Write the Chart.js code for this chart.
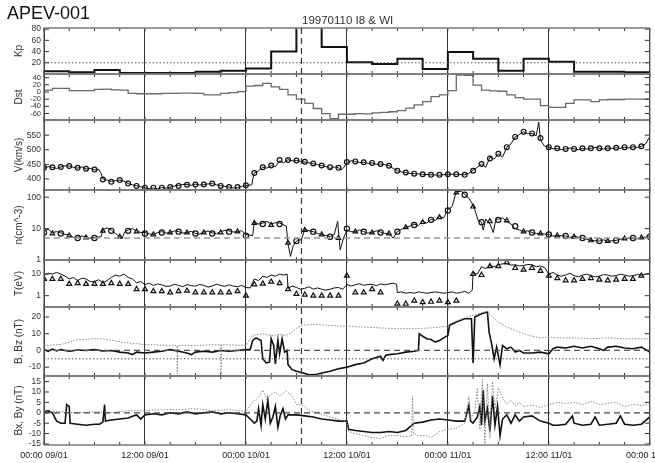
<!DOCTYPE html>
<html><head><meta charset="utf-8">
<script src="https://cdn.jsdelivr.net/npm/chart.js@4"></script>
<style>
html,body{margin:0;padding:0;background:#fff;}
#wrap{position:relative;width:655px;height:463px;overflow:hidden;}
#c{position:absolute;left:0;top:0;}
.t1{position:absolute;left:7px;top:3px;font:18px 'Liberation Sans',Arial,sans-serif;color:#111;}
.t2{position:absolute;left:302px;top:14px;font:11.5px 'Liberation Sans',Arial,sans-serif;color:#333;}
</style></head>
<body><div id="wrap"><canvas id="c" width="655" height="463"></canvas>
<div class="t1">APEV-001</div><div class="t2">19970110 I8 &amp; WI</div></div>
<script>
// ---------- categories / ticks ----------
const hours = [0,1,2,3,4,5,6,7,8,9,10,11,12,13,14,15,16,17,18,19,20,21,22,23,24,25,26,27,28,29,30,31,32,33,34,35,36,37,38,39,40,41,42,43,44,45,46,47,48,49,50,51,52,53,54,55,56,57,58,59,60,61,62,63,64,65,66,67,68,69,70,71,72];
const apHours = [0,3,6,9,12,15,18,21,24,27,30,33,36,39,42,45,48,51,54,57,60,63,66,69,72];
const xTickHours = [0,12,24,36,48,60,72];
const xTickLabels = ['00:00 09/01','12:00 09/01','00:00 10/01','12:00 10/01','00:00 11/01','12:00 11/01','00:00 12/01'];
const xMinorHours = [0,3,6,9,12,15,18,21,24,27,30,33,36,39,42,45,48,51,54,57,60,63,66,69,72];
const eventHour = 30.6;
const apTicks = [20,40,60,80];
const dstTicks = [40,20,0,-20,-40,-60];
const vTicks = [400,450,500,550];
const nTicks = [1,10,100];
const tTicks = [1,10];
const bTicks = [-10,0,10,20];
const bxyTicks = [-15,-10,-5,0,5,10,15];
const apRef = 20, nRef = 5, bRef = 0, bzRef = -5, bxyRef = 0;

// ---------- series ----------
const apVals = [5,3,7,2,2,2,4,6,10,40,94,48,21,18,27,9,39,27,6,27,22,4,4,3,3];
const dstVals = [5,10,10,4,4,4,7,8,6,5,
 -4,-5,-5,-5,-4,-4,-3,-3,-4,-8,
 -8,-4,-2,1,16,18,24,14,7,-8,
 -20,-32,-46,-60,-74,-62,-62,-60,-61,-58,
 -57,-55,-52,-45,-36,-27,-13,-8,4,47,
 46,19,5,3,2,-8,-16,-20,-20,-38,
 -43,-43,-32,-22,-22,-27,-22,-21,-21,-20,
 -20,-20,-20];
const vLine = [[0,436],[0.5,442],[1,440],[1.5,436],[2,441],[2.5,445],[3,444],[3.5,440],[4,437],[4.5,441],[5,434],[5.5,436],[6,431],[6.5,433],[6.8,418],[7,400],[7.5,396],[8,391],[8.5,394],[9,396],[9.5,392],[10,384],[10.5,380],[11,377],[11.5,373],[12,370],[12.5,367],[13,369],[13.5,366],[14,371],[14.5,368],[15,372],[15.5,376],[16,378],[16.5,381],[17,381],[17.5,378],[18,382],[18.5,379],[19,380],[19.5,383],[20,384],[20.5,380],[21,377],[21.5,374],[22,372],[22.5,369],[23,371],[23.5,374],[24,377],[24.7,380],[24.9,412],[25,420],[25.5,428],[26,440],[26.5,437],[27,446],[27.5,442],[28,462],[28.5,455],[29,466],[29.5,462],[30,463],[30.5,460],[31,458],[31.5,455],[32,452],[32.5,449],[33,446],[33.8,440],[34,436],[34.5,441],[35,438],[35.3,430],[35.6,438],[36,456],[36.5,462],[37,460],[37.5,456],[38,457],[38.5,453],[39,455],[39.5,450],[40,451],[41,446],[41.5,436],[42,428],[42.5,424],[43,422],[43.5,419],[44,418],[45,416],[46,414],[47,413],[48,416],[49,416],[50,414],[50.5,420],[51,430],[51.5,440],[52,451],[52.5,440],[53,474],[53.5,468],[54,486],[54.5,475],[55,509],[55.5,520],[56,544],[56.5,552],[57,562],[57.5,555],[58,556],[58.5,548],[58.8,595],[59,533],[59.5,512],[60,509],[60.5,503],[61,505],[61.5,500],[62,503],[62.5,506],[63,503],[63.5,500],[64,505],[64.5,502],[65,505],[65.5,508],[66,505],[66.5,502],[67,506],[67.5,504],[68,507],[68.5,505],[69,509],[69.5,506],[70,510],[70.5,508],[71,512],[71.5,520],[72,545]];
const vCirc = [438,440,441,444,438,435,432,398,390,396,
 384,376,370,370,370,372,376,380,381,381,
 384,376,372,372,378,420,440,446,465,465,
 463,459,453,446,440,438,458,460,457,455,
 451,445,428,422,418,416,414,414,416,416,
 414,428,451,470,486,509,544,562,556,540,
 509,505,503,503,505,505,505,505,507,509,
 509,512,null];
const nLine = [[0,8.5],[0.5,9.5],[1,7.5],[1.5,8],[2,7.3],[2.5,6.5],[3,6.5],[3.5,5.2],[4,5.3],[4.5,5.8],[5,5.5],[5.5,5.0],[6,5.2],[6.8,5.5],[7,9.5],[7.5,10.5],[8,9.0],[8.5,7],[9,5.5],[9.3,5.0],[9.6,8],[10,9.0],[10.5,10],[11,8.5],[11.5,7.5],[12,7.5],[12.5,6.8],[13,6.5],[13.5,7.5],[14,8.0],[14.5,7.2],[15,7.5],[15.5,8.5],[16,8.0],[16.5,7.2],[17,7.5],[17.5,8.2],[18,7.0],[18.5,6.8],[19,7.8],[19.5,8.4],[20,7.3],[20.5,6.9],[21,8.0],[21.5,8.8],[22,8.5],[22.5,7.8],[23,8.0],[23.5,8.6],[24,6.5],[24.8,6],[25,16],[25.5,14],[26,15],[26.5,17],[27,14],[27.5,15.5],[28,15],[28.8,12],[29,3.2],[29.3,1.3],[29.6,2.8],[30,4.0],[30.6,4.5],[31,9.5],[31.5,8.5],[32,8.0],[32.5,7],[33,6.5],[33.5,6],[34,5.5],[34.5,6.5],[34.9,17],[35.2,2.1],[35.6,5.0],[36,9],[36.5,8],[37,8],[37.5,9],[38,8],[38.5,7.2],[39,7.5],[39.5,8.5],[40,7.8],[40.5,7.0],[41,7],[41.5,5],[42,8],[42.5,9.5],[43,11],[43.5,12],[44,14],[44.5,12.5],[45,17],[45.5,15],[46,20],[46.5,18],[47,24],[47.5,22],[48,40],[48.5,50],[49,150],[49.6,155],[50.4,100],[50.8,70],[51.2,40],[51.6,18],[52,16],[52.2,9],[52.5,20],[53,14],[53.4,7.5],[53.7,20],[54,20],[54.5,22],[55,17],[55.5,14],[56,10],[56.5,9],[57,8],[57.5,8.5],[58,7.5],[58.5,7],[59,7],[60,6.5],[60.5,5.8],[61,6],[62,5.8],[62.5,5.2],[63,5.7],[64,5],[64.5,4.6],[65,4.2],[66,4],[66.5,4.4],[67,4],[68,4.2],[68.5,4.6],[69,4.8],[70,5],[70.5,4.7],[71,5.2],[72,5.5]];
const nMark = [7.5,7.0,7.0,6.0,5.0,5.2,5.0,8.5,8.5,5.5,
 8.5,8.0,7.0,6.5,7.5,7.5,8.0,7.5,7.0,7.5,
 7.0,7.5,8.0,8.0,6.0,15,14,13,14,3.5,
 4.0,9.0,8.0,6.5,5.5,5.0,10,8,8,7.5,
 7.5,7,8,11,13,16,19,23,38,140,
 120,50,16,17,19,18,12,8,7.5,7,
 6.5,6.0,5.8,5.5,5.0,4.2,4.0,4.0,4.2,4.8,
 5.0,5.2,5.5];
const tLine = [[0,9],[0.5,11],[1,10],[1.5,12],[2,10],[2.5,8],[3,6],[3.5,7],[4,5],[4.5,6.5],[5,6],[5.5,4.5],[6,4.5],[6.5,5.5],[7,4],[7.5,5],[8,7],[8.5,9],[9,8],[9.5,10],[10,7],[10.5,6],[11,4],[11.5,4.5],[12,3.3],[12.5,3.8],[13,3.0],[13.5,3.5],[14,3.2],[14.5,2.7],[15,2.8],[15.5,3.4],[16,3.0],[16.5,2.6],[17,3.3],[17.5,2.9],[18,2.8],[18.5,3.3],[19,3.0],[19.5,2.5],[20,2.8],[20.5,3.4],[21,3.0],[21.5,2.7],[22,3.2],[22.5,2.8],[23,2.6],[23.5,3.0],[24,2.4],[24.5,2.3],[25,6],[25.5,5],[26,8],[26.5,7],[27,9],[27.5,8],[28,10],[28.5,9],[28.9,10],[29,2.2],[29.5,2.8],[30,2.4],[30.5,2.0],[31,2.2],[31.5,2.6],[32,2.0],[32.5,2.3],[33,2.0],[33.5,1.8],[34,2.0],[34.5,2.3],[35,2.4],[35.5,2.0],[36,3.3],[36.5,2.8],[37,3.2],[37.5,3.6],[38,3.0],[38.5,3.3],[39,3.4],[39.5,2.9],[40,3.5],[40.5,3.2],[41,3.5],[41.5,3.8],[41.9,3.4],[42,1.4],[42.5,1.5],[43,1.3],[43.5,1.4],[44,1.3],[44.5,1.5],[45,1.4],[45.5,1.3],[46,1.4],[46.5,1.5],[47,1.4],[47.5,1.3],[48,1.4],[48.5,1.5],[49,1.3],[49.5,1.4],[50,1.6],[50.5,1.3],[50.9,1.8],[51,12],[51.5,10],[52,22],[52.5,18],[53,25],[53.5,22],[54,27],[54.5,30],[55,30],[55.5,26],[56,27],[56.5,24],[57,25],[57.5,28],[58,27],[58.5,22],[59,24],[59.5,20],[60,10],[60.5,12],[61,9],[61.5,8],[62,9],[62.5,11],[63,8.5],[63.5,7.5],[64,9],[64.5,10],[65,8.5],[65.5,7.5],[66,8],[66.5,9.5],[67,9],[67.5,8],[68,8.5],[68.5,10],[69,9],[69.5,8],[70,8.5],[70.5,9.5],[71,9],[71.5,10],[72,11]];
const tTri = [5.9,5.9,5.9,3.5,3.8,3.5,3.5,3.5,3.8,3.5,
 3.5,2.0,2.0,1.6,1.6,1.4,1.6,1.7,1.4,1.4,
 1.4,1.4,1.4,1.6,1.0,3.3,3.6,4.4,3.8,2.0,
 1.2,1.1,1.0,1.0,1.0,1.0,8.4,1.4,1.4,2.0,
 1.4,null,0.42,0.42,0.59,0.5,0.52,0.59,0.5,0.59,
 null,10,9,23,23,35,19,16,19,14,
 8.4,6.5,5.1,5.1,5.9,6.5,5.5,5.1,5.5,5.9,
 5.9,8.4,null];
const bMag = [[0,3],[2,3.5],[3,5],[4,6.5],[6,7],[7,7],[8,6],[10,4.5],[12,3.5],[15,3],[15.8,3],[15.85,-14],[15.9,3],[18,3],[21,3.5],[21.05,-14],[21.1,3.5],[24,3],[24.8,9],[26,10],[27,9],[28,9.5],[28.8,9],[29.5,11],[30.2,14],[30.8,15.2],[32,15.5],[34,15],[36,14.5],[38,14],[40,13.5],[42,13],[44,13],[46,13.5],[47,14],[48,14.5],[48.2,16],[49,17.5],[50,19.5],[51,21],[52,22.5],[52.7,23.5],[53.5,19],[54,17],[55,14],[56,12],[57,10],[58,8.5],[59,7.5],[60,8],[61,7.5],[63,7.5],[65,7],[67,7.5],[69,7],[71,7],[72,7]];
const bz = [[0,0.5],[0.5,-0.5],[1,0.8],[1.5,-0.3],[2,0.5],[2.5,0],[3,-0.5],[4,0.3],[5,0],[6,0.5],[7,-0.3],[8,0],[9,-1],[10,-1.5],[10.5,-2.5],[11,-1],[12,-1.5],[13,-1],[14,-0.5],[15,0.5],[16,-0.5],[17,-1.5],[17.5,-2.5],[18,-1],[19,-0.5],[20,-1],[21,0],[22,-0.5],[23,0],[24,0.5],[24.5,0.5],[24.8,6],[25.2,7.5],[25.8,6],[26.0,-5],[26.4,-7.5],[26.8,-7],[27.0,7],[27.3,3],[27.5,-8],[27.8,6],[28.0,-2],[28.3,7],[28.6,-1],[28.9,0],[29.0,-8.5],[29.5,-11.5],[30.0,-12.5],[30.8,-13.5],[31.5,-14.6],[32.3,-14.5],[33,-13.5],[34,-12.5],[35,-11],[36,-10],[37,-8.5],[38,-7.5],[39,-5],[40,-3.5],[40.3,-6],[40.6,-3],[41,-2.5],[42,-2],[43,-1],[44,-0.5],[44.5,0],[44.6,10],[45,8.5],[45.5,7],[46,6.5],[46.5,5],[47,6],[47.5,7.5],[48,9],[48.2,15],[49,17],[50,19],[50.8,19],[51.0,-7.5],[51.2,20],[52,22],[52.7,23],[52.9,11],[53.2,4],[53.5,-5],[53.8,2],[54.2,-8.5],[54.5,3],[55,1],[55.5,2],[56,-1],[56.5,0],[57,-1.5],[58,-1.5],[59,-1],[60,-2],[60.5,1],[61,2],[62,1.5],[63,2.5],[64,1.5],[65,2.5],[66,1],[66.5,0],[67,2],[68,2.5],[69,1.5],[70,1],[71,2],[72,-1]];
const bx = [[0,0.5],[2,0.5],[4,0],[6,0.5],[8,0],[10,1],[12,1],[14,1.5],[16,1.5],[18,2],[20,1],[22,1.5],[24,0.5],[24.8,5],[25.5,7.5],[26,11],[26.5,6],[27,9],[27.5,10],[28,8],[28.8,10.5],[29.5,8],[30,4],[30.8,3.7],[31.5,1],[32.5,0],[34,-2],[36,-4.4],[36.2,-9],[37,-10],[38,-11],[39,-12],[40,-12.3],[41,-11],[42,-11],[43,-11.5],[43.7,-11],[43.8,8],[43.9,-10],[44.5,-11],[45.5,-11],[46,-12],[47,-9],[48,-8],[49,-7.5],[50,-5],[50.5,8],[50.7,-3],[51.2,1],[51.5,12],[51.8,-8],[52.1,16],[52.4,-15],[52.7,14],[53.0,-12],[53.3,15],[53.6,2],[54,12],[54.4,8],[55,4],[55.5,6],[56,3.5],[56.5,5],[57,3],[58,3.7],[59,2.5],[60,4],[61,5],[62,4.5],[63,5],[64,4],[65,5.5],[66,4],[67,4.5],[68,5],[69,3],[70,4],[71,3.5],[72,4]];
const by = [[0,0.5],[0.5,1],[1,0],[1.5,-4],[2,-5],[2.5,-5],[2.7,4],[3.0,3],[3.1,-5],[4,-5.5],[5,-6],[6,-5.5],[6.6,-5.5],[7,-4.5],[7.2,4],[7.3,-4],[8,-3.5],[9,-3],[10,-2.5],[10.6,-1.5],[11,-1],[11.5,-3],[12,-1],[13,-0.5],[14,-1],[15,0],[16,-0.5],[17,0.5],[18,-0.5],[19,0],[20,0.5],[21,-0.5],[22,0],[23,-0.5],[24,-1],[24.5,-3],[25,-5],[25.3,-4],[25.5,2],[25.8,-6],[26,4],[26.3,-3],[26.6,6],[26.9,-5],[27.2,-2],[27.5,3],[27.8,-7],[28.1,-1],[28.4,2],[28.7,-3],[29,-1],[30,-1],[31,-1.5],[32,-2],[33,-3],[34,-3.5],[35,-4],[36,-4],[36.2,-8],[37,-8.5],[38,-9],[39,-9.5],[40,-9.5],[41,-9],[42,-9.5],[43,-8.5],[44,-5],[45,-4.5],[46,-3.5],[47,-3],[48,-3.5],[49,-4],[50,-4],[50.5,3.5],[50.7,-4],[51,-5],[51.5,-2],[51.8,3],[52,-6],[52.2,11],[52.4,-4],[52.7,2],[53,-9],[53.3,8],[53.6,-6],[53.9,3],[54.2,-11],[54.5,-3],[55,-1],[55.5,-5],[56,-1],[56.5,-4],[57,-2],[58,-1.5],[59,-4],[60,-5],[60.5,-6],[61,-6],[62,-5.5],[62.8,-1.5],[63,-5],[64,-6],[65,-5.5],[65.5,-2],[66,-6],[67,-5.5],[68,-5],[68.5,-1.5],[69,-5.5],[70,-6],[71,-5.5],[72,-2]];

// ---------- helpers ----------
const pts = (ts, vs) => ts.map((t, i) => ({x: t, y: vs[i]}));
const pairs = arr => arr.map(p => ({x: p[0], y: p[1]}));
const span = v => [{x: 0, y: v}, {x: 72, y: v}];
const FONT = "'Liberation Sans', Arial, sans-serif";

function yAxis(cfg) {
  return {
    type: cfg.type || 'linear',
    position: 'left',
    stack: 'panels',
    stackWeight: cfg.h,
    weight: cfg.w,
    min: cfg.min, max: cfg.max,
    afterBuildTicks: s => { s.ticks = cfg.ticks.map(v => ({value: v})); },
    afterFit: s => { s.width = 44; },
    ticks: {autoSkip: false, padding: 3, color: '#333', font: {family: FONT, size: cfg.fs || 8.5},
            callback: v => String(v)},
    grid: {drawOnChartArea: false, drawTicks: false},
    border: {display: false},
    title: {display: true, text: cfg.title, color: '#333', font: {family: FONT, size: 10}, padding: {top: 13, bottom: 0}}
  };
}

const line = (axis, data, o) => Object.assign({yAxisID: axis, data, pointRadius: 0, borderColor: '#111', borderWidth: 1, fill: false, tension: 0}, o || {});
const marks = (axis, data, style, o) => Object.assign({yAxisID: axis, data, showLine: false, pointStyle: style, pointRadius: 2.4, borderColor: '#111', borderWidth: 1.2, backgroundColor: 'rgba(255,255,255,0)'}, o || {});

const frame = {
  id: 'frame',
  afterDatasetsDraw(chart) {
    const ctx = chart.ctx, ca = chart.chartArea, xs = chart.scales.x;
    ctx.save();
    const seg = (x1, y1, x2, y2) => { ctx.beginPath(); ctx.moveTo(x1, y1); ctx.lineTo(x2, y2); ctx.stroke(); };
    ['ap','dst','v','n','t','b','bxy'].forEach(id => {
      const s = chart.scales[id];
      ctx.strokeStyle = '#333'; ctx.lineWidth = 1;
      s.ticks.forEach(t => { const y = s.getPixelForValue(t.value); seg(ca.left, y, ca.left + 5, y); seg(ca.right - 5, y, ca.right, y); });
      xMinorHours.forEach(h => { const x = xs.getPixelForValue(h); seg(x, s.top, x, s.top + 3); seg(x, s.bottom - 3, x, s.bottom); });
      ctx.strokeStyle = '#777'; ctx.lineWidth = 1.6;
      seg(ca.left, s.top, ca.right, s.top); seg(ca.left, s.bottom, ca.right, s.bottom);
    });
    ctx.strokeStyle = '#555'; ctx.lineWidth = 1.2;
    seg(ca.left, ca.top, ca.left, ca.bottom); seg(ca.right, ca.top, ca.right, ca.bottom);
    ctx.setLineDash([6, 4]); ctx.strokeStyle = '#333'; ctx.lineWidth = 1.2;
    const ex = xs.getPixelForValue(eventHour);
    seg(ex, ca.top, ex, ca.bottom);
    ctx.restore();
  }
};

new Chart(document.getElementById('c'), {
  type: 'line',
  data: {datasets: [
    line('ap', span(apRef), {borderColor: '#555', borderDash: [1.5, 2]}),
    line('ap', pts(apHours, apVals), {stepped: true, borderWidth: 2}),
    line('dst', pts(hours, dstVals), {stepped: true, borderColor: '#6a6a6a', borderWidth: 1.3}),
    line('v', pairs(vLine)),
    marks('v', pts(hours, vCirc), 'circle'),
    line('n', span(nRef), {borderColor: '#999', borderDash: [6, 4], borderWidth: 1.5}),
    line('n', pairs(nLine)),
    marks('n', pts(hours, nMark), ctx => (ctx.dataIndex % 2 ? 'triangle' : 'circle'), {pointRadius: 2.6}),
    line('t', pairs(tLine)),
    marks('t', pts(hours, tTri), 'triangle', {pointRadius: 2.8}),
    line('b', span(bRef), {borderColor: '#555', borderDash: [6, 4], borderWidth: 1.2}),
    line('b', span(bzRef), {borderColor: '#555', borderDash: [1.5, 2]}),
    line('b', pairs(bMag), {borderColor: '#888', borderDash: [1.5, 1.5]}),
    line('b', pairs(bz), {borderWidth: 1.6}),
    line('bxy', span(bxyRef), {borderColor: '#444', borderDash: [6, 4], borderWidth: 1.2}),
    line('bxy', pairs(bx), {borderColor: '#888', borderDash: [1.5, 1.5]}),
    line('bxy', pairs(by), {borderWidth: 1.6})
  ]},
  options: {
    responsive: false, animation: false, devicePixelRatio: 1,
    layout: {padding: {top: 28, right: 4, left: 0, bottom: 0}},
    plugins: {legend: {display: false}, tooltip: {enabled: false}},
    scales: {
      x: {type: 'linear', min: 0, max: 72, position: 'bottom',
          afterBuildTicks: s => { s.ticks = xTickHours.map(v => ({value: v})); },
          afterFit: s => { s.height = 18; s.paddingLeft = 0; s.paddingRight = 0; },
          ticks: {autoSkip: false, maxRotation: 0, padding: 5, color: '#222', font: {family: FONT, size: 9},
                  callback: (v, i) => xTickLabels[i]},
          grid: {color: '#333', lineWidth: 1, drawTicks: false},
          border: {display: false}},
      ap: yAxis({h: 46, w: 7, min: 0, max: 82, ticks: apTicks, title: 'Kp'}),
      dst: yAxis({h: 46, w: 6, min: -78, max: 50, ticks: dstTicks, title: 'Dst', fs: 7.5}),
      v: yAxis({h: 70, w: 5, min: 362, max: 602, ticks: vTicks, title: 'V(km/s)'}),
      n: yAxis({h: 70, w: 4, type: 'logarithmic', min: 1, max: 170, ticks: nTicks, title: 'n(cm^-3)'}),
      t: yAxis({h: 47, w: 3, type: 'logarithmic', min: 0.33, max: 45, ticks: tTicks, title: 'T(eV)'}),
      b: yAxis({h: 69, w: 2, min: -15.3, max: 26, ticks: bTicks, title: 'B, Bz (nT)'}),
      bxy: yAxis({h: 69, w: 1, min: -15.5, max: 17.7, ticks: bxyTicks, title: 'Bx, By (nT)'})
    }
  },
  plugins: [frame]
});
</script></body></html>
